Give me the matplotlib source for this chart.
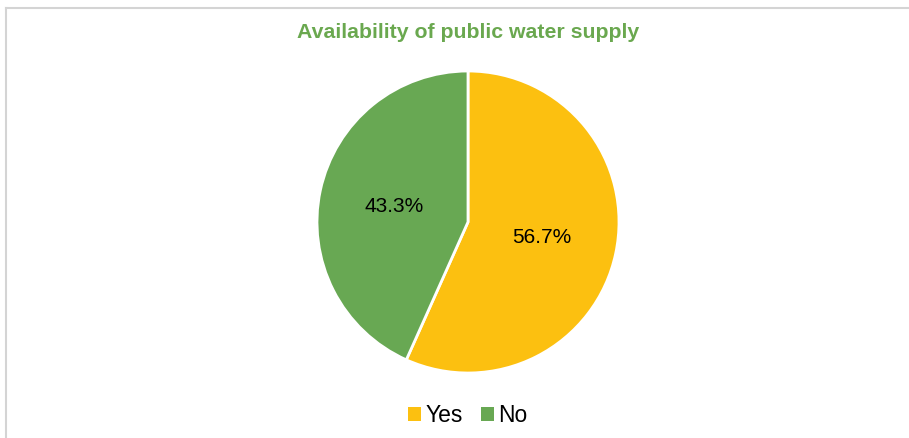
import matplotlib.pyplot as plt
from matplotlib.lines import Line2D
from matplotlib.patches import Patch

plt.rcParams["font.family"] = ["Liberation Sans", "DejaVu Sans"]

categories = ["Yes", "No"]
shares = [56.7, 43.3]
colors = ["#FCC010", "#68A853"]
title = "Availability of public water supply"

fig = plt.figure(figsize=(9.09, 4.38), dpi=100)

# light frame on top and left like the source screenshot
fig.add_artist(Line2D([6 / 909, 6 / 909], [0, 1 - 8 / 438], color="#d4d4d4", lw=1.5))
fig.add_artist(Line2D([6 / 909, 1], [1 - 8 / 438, 1 - 8 / 438], color="#d4d4d4", lw=1.5))

ax = fig.add_axes([317 / 909, 65 / 438, 302 / 909, 302 / 438])
wedges, texts, autotexts = ax.pie(
    shares,
    colors=colors,
    startangle=90,
    counterclock=False,
    autopct="%.1f%%",
    pctdistance=0.5,
    wedgeprops={"edgecolor": "white", "linewidth": 2},
    textprops={"fontsize": 15, "color": "black"},
)
ax.set_xlim(-1, 1)
ax.set_ylim(-1, 1)
ax.set_aspect("equal")

fig.text(468 / 909, 1 - 32 / 438, title, ha="center", va="center",
         fontsize=15.3, fontweight="bold", color="#6AA84F")

handles = [Patch(facecolor=c, edgecolor="none") for c in colors]
fig.legend(handles, categories, loc="center", bbox_to_anchor=(468 / 909, 1 - 416 / 438),
           ncol=2, frameon=False, fontsize=16.5, handlelength=0.55, handleheight=0.55,
           handletextpad=0.2, columnspacing=0.8)

fig.savefig("out.png", dpi=100)
